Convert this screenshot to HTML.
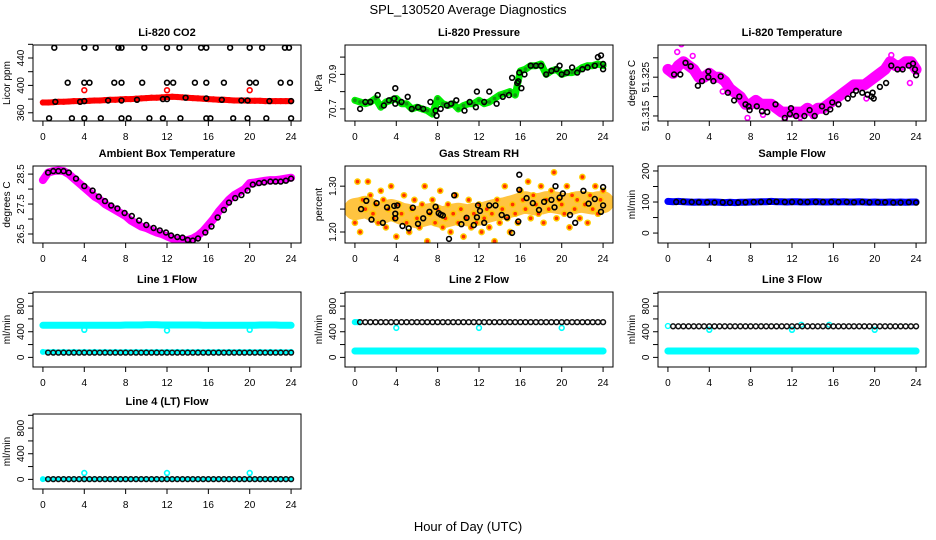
<!DOCTYPE html>
<html><head><meta charset="utf-8"><style>
html,body{margin:0;padding:0;background:#fff;}
svg{display:block;font-family:"Liberation Sans",Arial,sans-serif;}
</style></head><body>
<svg id="chart" width="936" height="540" viewBox="0 0 936 540" xmlns="http://www.w3.org/2000/svg">
<rect x="0" y="0" width="936" height="540" fill="#fff"/>
<text x="468" y="14" text-anchor="middle" font-size="13">SPL_130520  Average Diagnostics</text>
<text x="468" y="531" text-anchor="middle" font-size="13">Hour of Day (UTC)</text>
</svg>
<script>
// ---------- data ----------
const hourTicks = [0,4,8,12,16,20,24];

const co2Red = [375,375,375.5,376,376,376.5,377,377,377,377.5,378,378,378.5,379,379,379.5,380,380,380.5,381,381.5,382,382,382.5,383,383.5,383,382.5,382,381.5,381,380.5,380,379.5,379,379,378.5,378,378,378,377.5,377.5,377.5,377,377,377,377,377,377];
const co2RedOutT = [4,12,20];
const co2RedOutV = [393,393,393];
const co2BlackT = [1.1,4,5.1,7.3,7.6,9.8,12,13.2,15.3,15.8,18.1,20,21.2,23.4,23.8, 2.4,4,4.5,6.9,7.6,9.6,12,12.6,14.7,15.8,17.5,20,20.6,23,23.9, 0.6,2.8,4,5.6,7.6,8.3,10.3,11.6,13.3,15.8,16.2,18.4,19.8,21.6,24, 1.2,3.6,4,6.3,7.6,9.1,11.6,12,13.8,15.8,17.3,19.2,19.8,21.9,24];
const co2BlackV = [455,455,455,455,455,455,455,455,455,455,455,455,455,455,455, 404,404,404,404,404,404,404,404,404,404,404,404,404,404,404, 352,352,352,352,352,352,352,352,352,352,352,352,352,352,352, 376,376,377,378,378,379,380,380,382,381,379,378,378,377,377];
const co2Ticks = [360,380,400,420,440,460];
const co2Labels = [360,400,440];

const presGreen = [70.75,70.74,70.73,70.74,70.76,70.71,70.74,70.75,70.76,70.73,70.73,70.70,70.71,70.70,70.69,70.67,70.76,70.73,70.72,70.73,70.70,70.72,70.73,70.73,70.75,70.73,70.74,70.76,70.78,70.79,70.80,70.78,70.92,70.93,70.95,70.95,70.96,70.90,70.92,70.93,70.90,70.91,70.91,70.92,70.94,70.95,70.95,70.96,70.95];
const presBlackT = [0.5,1,1.5,2.2,2.8,3.3,3.8,3.9,3.9,4.5,5.1,5.5,6.1,6.6,7.3,7.8,7.9,8.3,8.9,9.3,9.8,10.6,11.1,11.7,11.8,12.5,13,13.7,14.3,14.9,15.2,15.7,15.8,15.9,16.1,16.4,17,17.5,18,18.5,19,19.5,19.8,20,20.5,21,21.5,22,22.5,23.2,23.5,23.8,24,24];
const presBlackV = [70.70,70.74,70.74,70.78,70.72,70.75,70.76,70.73,70.82,70.74,70.77,70.70,70.71,70.70,70.74,70.69,70.66,70.70,70.72,70.73,70.75,70.69,70.74,70.71,70.80,70.74,70.80,70.73,70.77,70.78,70.88,70.85,70.86,70.91,70.82,70.90,70.95,70.95,70.95,70.90,70.92,70.93,70.95,70.90,70.91,70.94,70.91,70.93,70.94,70.95,71.00,71.01,70.96,70.93];
const presTicks = [70.7,70.8,70.9,71.0];
const presLabels = [70.7,70.9];

const tempMag = [51.327,51.326,51.328,51.329,51.328,51.327,51.325,51.325,51.326,51.325,51.325,51.324,51.322,51.321,51.320,51.318,51.318,51.319,51.318,51.318,51.318,51.317,51.316,51.316,51.316,51.316,51.316,51.317,51.316,51.317,51.317,51.318,51.319,51.320,51.321,51.322,51.323,51.323,51.323,51.324,51.325,51.326,51.327,51.329,51.328,51.328,51.329,51.329,51.327];
const tempMagOutT = [0.9,1.3,1.6,2.4,5.3,7.7,9.2,11.3,12.8,12.8,14.0,19.2,21.6,23.4];
const tempMagOutV = [51.3315,51.3335,51.3290,51.3305,51.3213,51.3145,51.3153,51.3140,51.3147,51.3133,51.3150,51.3195,51.3307,51.3235];
const tempBlackT = [0.6,1.2,1.7,2.2,2.9,3.3,3.9,3.9,4.4,5.1,5.8,6.4,6.9,7.5,7.8,7.9,8.6,9.1,9.6,10.4,11.3,11.8,11.9,12.4,13.2,13.7,14.2,14.9,15.3,15.7,15.9,16.5,17.4,17.9,18.2,18.8,19.3,19.7,19.8,19.9,20.5,21.1,21.6,22.2,22.7,23.3,23.7,23.9,24];
const tempBlackV = [51.3257,51.3257,51.3287,51.3278,51.3228,51.3240,51.3250,51.3265,51.3240,51.3252,51.3210,51.3190,51.3200,51.3180,51.3175,51.3165,51.3175,51.3162,51.3160,51.3180,51.3145,51.3155,51.3170,51.3150,51.3150,51.3165,51.3150,51.3175,51.3160,51.3167,51.3185,51.3180,51.3195,51.3205,51.3215,51.3210,51.3205,51.3200,51.3210,51.3195,51.3225,51.3235,51.3280,51.3270,51.3270,51.3280,51.3285,51.3270,51.3255];
const tempTicks = [51.315,51.320,51.325,51.330];
const tempLabels = [51.315,51.325];

const ambMag = [28.3,28.55,28.6,28.62,28.6,28.5,28.35,28.2,28.05,27.9,27.75,27.65,27.5,27.4,27.3,27.2,27.1,26.95,26.85,26.75,26.7,26.62,26.55,26.5,26.42,26.35,26.3,26.3,26.3,26.35,26.45,26.6,26.8,27.0,27.25,27.45,27.65,27.8,27.9,28.0,28.2,28.22,28.25,28.28,28.3,28.3,28.32,28.35,28.38];
const ambBlackT = [0.5,1,1.5,2,2.5,3.2,4,4.8,5.4,6,6.6,7.2,7.9,8.6,9.3,10,10.7,11.3,11.9,12.4,13,13.5,14,14.5,15,15.7,16.3,16.9,17.5,18,18.6,19.2,19.8,20.3,20.9,21.4,22,22.5,23,23.5,24];
const ambBlackV = [28.55,28.6,28.6,28.6,28.55,28.35,28.1,27.95,27.75,27.6,27.45,27.35,27.2,27.1,26.95,26.8,26.7,26.62,26.55,26.45,26.4,26.38,26.3,26.28,26.35,26.55,26.75,27.05,27.3,27.55,27.7,27.8,27.95,28.15,28.2,28.22,28.25,28.25,28.25,28.28,28.35];
const ambTicks = [26.5,27.0,27.5,28.0,28.5];
const ambLabels = [26.5,27.5,28.5];

const rhOrange = [1.22,1.31,1.20,1.27,1.25,1.31,1.28,1.24,1.26,1.22,1.29,1.27,1.21,1.25,1.30,1.23,1.19,1.26,1.24,1.28,1.22,1.20,1.25,1.27,1.23,1.21,1.26,1.30,1.18,1.24,1.27,1.22,1.25,1.29,1.21,1.23,1.26,1.20,1.24,1.28,1.22,1.25,1.19,1.23,1.27,1.21,1.24,1.22,1.26,1.20,1.23,1.25,1.21,1.24,1.18,1.27,1.22,1.25,1.30,1.23,1.20,1.26,1.24,1.22,1.29,1.27,1.25,1.31,1.23,1.28,1.26,1.24,1.30,1.22,1.27,1.25,1.29,1.33,1.23,1.27,1.26,1.24,1.30,1.21,1.28,1.25,1.27,1.23,1.32,1.26,1.22,1.28,1.25,1.30,1.24,1.27,1.29];
const rhCenter = [1.250,1.252,1.255,1.250,1.245,1.240,1.245,1.248,1.245,1.240,1.238,1.235,1.232,1.235,1.238,1.240,1.235,1.232,1.235,1.238,1.240,1.238,1.236,1.240,1.238,1.242,1.245,1.248,1.250,1.252,1.255,1.258,1.262,1.265,1.262,1.260,1.262,1.265,1.266,1.264,1.262,1.260,1.262,1.265,1.266,1.264,1.262,1.265,1.265];
const rhBlackT = [0.6,1.1,1.6,2.1,2.7,3.1,3.8,3.9,3.9,4.1,4.6,5.2,5.6,6.1,6.6,7.2,7.8,8.1,8.3,8.5,9.1,9.6,10.3,10.8,11.5,11.8,11.9,12.1,12.5,13.0,13.6,14.2,14.7,15.2,15.8,15.9,15.9,16.6,17.2,17.8,18.3,19.0,19.3,19.4,19.8,20.1,20.8,21.3,22.1,22.6,23.2,23.8,24,24];
const rhBlackV = [1.250,1.268,1.227,1.263,1.220,1.254,1.257,1.240,1.230,1.258,1.213,1.208,1.253,1.218,1.230,1.244,1.255,1.241,1.238,1.236,1.185,1.280,1.217,1.231,1.215,1.232,1.258,1.246,1.220,1.258,1.258,1.237,1.232,1.198,1.223,1.325,1.292,1.274,1.263,1.248,1.266,1.270,1.254,1.300,1.275,1.284,1.237,1.220,1.290,1.262,1.272,1.244,1.258,1.298];
const rhTicks = [1.20,1.25,1.30];
const rhLabels = [1.20,1.30];

const sampleBlue = [102,101,102,101,100,99,100,99,100,100,99,98,99,98,99,99,100,100,101,101,102,101,101,100,101,101,100,100,101,101,100,100,101,100,101,100,100,101,100,99,100,99,99,100,99,100,99,100,100];
const sampleBlackT = [0.8,1.5,2.3,3,3.8,4.5,5.3,6,6.8,7.5,8.3,9,9.8,10.5,11.3,12,12.8,13.5,14.3,15,15.8,16.5,17.3,18,18.8,19.5,20.3,21,21.8,22.5,23.3,24];
const sampleBlackV = [100,101,100,99,99,98,99,98,98,99,100,100,101,101,100,100,100,100,100,100,100,100,100,99,100,99,99,99,98,98,99,98];
const sampleTicks = [0,50,100,150,200];
const sampleLabels = [0,100,200];

const flowTicks = [0,200,400,600,800,1000];
const flowLabels = [0,400,800];
const line1Cyan = [500,500,500,500,500,500,500,500,500,500,500,500,500,500,500,500,505,505,505,505,510,510,510,505,505,505,505,505,505,505,505,500,500,500,500,500,500,500,500,500,500,500,505,505,505,505,500,500,500];
const line1CyanLow = [85,85,85,85,85,85,85,85,85,85,85,85,85,85,85,85,85,85,85,85,85,85,85,85,85];
const line1Black = [75,75,75,75,75,75,75,75,75,75,75,75,75,75,75,75,75,75,75,75,75,75,75,75,75,75,75,75,75,75,75,75,75,75,75,75,75,75,75,75,75,75,75,75,75,75,75,75];
const line1DipT = [4,12,20];
const line1DipV = [430,420,430];
const line2CyanLow = [100,100,100,100,100,100,100,100,100,100,100,100,100,100,100,100,100,100,100,100,100,100,100,100,100];
const line2CyanHiT = [0,0.3];
const line2CyanHiV = [550,550];
const line2Black = [550,550,550,550,550,550,550,550,550,550,550,550,550,550,550,550,550,550,550,550,550,550,550,550,550,550,550,550,550,550,550,550,550,550,550,550,550,550,550,550,550,550,550,550,550,550,550,550];
const line2DipT = [4,12,20];
const line2DipV = [460,460,460];
const line3CyanLow = [100,100,100,100,100,100,100,100,100,100,100,100,100,100,100,100,100,100,100,100,100,100,100,100,100];
const line3CyanHiT = [0,12.9,15.6];
const line3CyanHiV = [490,510,510];
const line3Black = [485,485,485,485,485,485,485,485,485,485,485,485,485,485,485,485,485,485,485,485,485,485,485,485,485,485,485,485,485,485,485,485,485,485,485,485,485,485,485,485,485,485,485,485,485,485,485,485];
const line3DipT = [4,12,20];
const line3DipV = [430,430,430];
const line4Cyan = [5,5,5,5,5,5,5,5,5,5,5,5,5,5,5,5,5,5,5,5,5,5,5,5,5];
const line4Black = [5,5,5,5,5,5,5,5,5,5,5,5,5,5,5,5,5,5,5,5,5,5,5,5,5,5,5,5,5,5,5,5,5,5,5,5,5,5,5,5,5,5,5,5,5,5,5,5];
const line4SpikeT = [4,12,20];
const line4SpikeV = [100,100,100];

// ---------- drawing ----------
const NS = "http://www.w3.org/2000/svg";
const svg = document.getElementById("chart");
function mk(tag, attrs, parent) {
  const e = document.createElementNS(NS, tag);
  for (const k in attrs) e.setAttribute(k, attrs[k]);
  (parent || svg).appendChild(e);
  return e;
}
function evenHours(n, start, end) {
  const out = [];
  for (let i = 0; i < n; i++) out.push(start + (end - start) * i / (n - 1));
  return out;
}
function panel(p) {
  const g = mk("g", {});
  
  
  const xs = v => p.x0 + (v - (-0.96)) / 25.92 * (p.x1 - p.x0);
  const ys = v => p.y1 - (v - p.ylim[0]) / (p.ylim[1] - p.ylim[0]) * (p.y1 - p.y0);
  const clip = mk("clipPath", {id: "clip-" + p.name}, g);
  mk("rect", {x: p.x0, y: p.y0, width: p.x1 - p.x0, height: p.y1 - p.y0}, clip);
  const data = mk("g", {"clip-path": "url(#clip-" + p.name + ")"}, g);
  
  
  p.layers.forEach(L => {
    const lg = mk("g", {}, data);
    
    
    const t = L.t || evenHours(L.v.length, L.start || 0, L.end || 24);
    if (L.band) {
      const pts = t.map((h, i) => xs(h).toFixed(1) + "," + ys(L.v[i]).toFixed(1)).join(" ");
      const pl = mk("polyline", {points: pts, fill: "none", stroke: L.bandColor || L.color, "stroke-width": L.band, "stroke-linejoin": "round", "stroke-linecap": "round", opacity: L.bandOpacity || 1}, lg);
      
      
    }
    if (L.pts !== false) {
      t.forEach((h, i) => {
        const c = mk("circle", {cx: xs(h).toFixed(1), cy: ys(L.v[i]).toFixed(1), r: L.r || 2.4, fill: L.fill || "none", stroke: L.color, "stroke-width": L.sw || 1.4}, lg);
        
        
      });
    }
  });
  const box = mk("rect", {x: p.x0, y: p.y0, width: p.x1 - p.x0, height: p.y1 - p.y0, fill: "none", stroke: "#000", "stroke-width": 1}, g);
  
  
  const title = mk("text", {x: (p.x0 + p.x1) / 2, y: p.y0 - 9, "text-anchor": "middle", "font-size": 11, "font-weight": "bold"}, g);
  title.textContent = p.title;
  
  
  hourTicks.forEach(h => {
    const x = xs(h);
    const tk = mk("line", {x1: x, x2: x, y1: p.y1, y2: p.y1 + 5, stroke: "#000"}, g);
    
    
    const tl = mk("text", {x: x, y: p.y1 + 19, "text-anchor": "middle", "font-size": 10}, g);
    tl.textContent = h;
    
    
  });
  p.yticks.forEach(v => {
    const y = ys(v);
    const tk = mk("line", {x1: p.x0 - 5, x2: p.x0, y1: y, y2: y, stroke: "#000"}, g);
    
    
  });
  p.ylabels.forEach(v => {
    const y = ys(v);
    const tl = mk("text", {x: 0, y: 0, "text-anchor": "middle", "font-size": 10, transform: "translate(" + (p.x0 - 9) + "," + y.toFixed(1) + ") rotate(-90)"}, g);
    tl.textContent = p.fmt ? p.fmt(v) : v;
    
    
  });
  const yt = mk("text", {x: 0, y: 0, "text-anchor": "middle", "font-size": 10, transform: "translate(" + (p.x0 - 23) + "," + ((p.y0 + p.y1) / 2) + ") rotate(-90)"}, g);
  yt.textContent = p.ytitle;
  
  
}

const C1 = [33, 301], C2 = [345, 613], C3 = [658, 926];
const R1 = [45, 121], R2 = [166, 243], R3 = [292, 367], R4 = [414, 489];
const flowY = [-150, 1020];
const blk = "#000", cy = "#00ffff";

panel({name: "co2-panel", title: "Li-820 CO2", ytitle: "Licor ppm", x0: C1[0], x1: C1[1], y0: R1[0], y1: R1[1], ylim: [348, 459], yticks: co2Ticks, ylabels: co2Labels,
  layers: [
    {name: "co2-red-series", v: co2Red, color: "#ff0000", band: 6, r: 2.4},
    {name: "co2-red-outliers", t: co2RedOutT, v: co2RedOutV, color: "#ff0000", sw: 1.6},
    {name: "co2-black-series", t: co2BlackT, v: co2BlackV, color: blk, sw: 1.6}
  ]});
panel({name: "pressure-panel", title: "Li-820 Pressure", ytitle: "kPa", x0: C2[0], x1: C2[1], y0: R1[0], y1: R1[1], ylim: [70.63, 71.07], yticks: presTicks, ylabels: presLabels, fmt: v => v.toFixed(1),
  layers: [
    {name: "pressure-green-series", v: presGreen, color: "#00ee00", band: 7, r: 2.6, fill: "#119911"},
    {name: "pressure-black-series", t: presBlackT, v: presBlackV, color: blk, sw: 1.6}
  ]});
panel({name: "temperature-panel", title: "Li-820 Temperature", ytitle: "degrees C", x0: C3[0], x1: C3[1], y0: R1[0], y1: R1[1], ylim: [51.3137, 51.3333], yticks: tempTicks, ylabels: tempLabels, fmt: v => v.toFixed(3),
  layers: [
    {name: "temperature-magenta-series", v: tempMag, color: "#ff00ff", band: 11, r: 3},
    {name: "temperature-magenta-outliers", t: tempMagOutT, v: tempMagOutV, color: "#ff00ff", sw: 1.6},
    {name: "temperature-black-series", t: tempBlackT, v: tempBlackV, color: blk, sw: 1.6}
  ]});
panel({name: "ambient-panel", title: "Ambient Box Temperature", ytitle: "degrees C", x0: C1[0], x1: C1[1], y0: R2[0], y1: R2[1], ylim: [26.2, 28.77], yticks: ambTicks, ylabels: ambLabels, fmt: v => v.toFixed(1),
  layers: [
    {name: "ambient-magenta-series", v: ambMag, color: "#ff00ff", band: 8, r: 3},
    {name: "ambient-black-series", t: ambBlackT, v: ambBlackV, color: blk, sw: 1.6}
  ]});
panel({name: "rh-panel", title: "Gas Stream RH", ytitle: "percent", x0: C2[0], x1: C2[1], y0: R2[0], y1: R2[1], ylim: [1.176, 1.344], yticks: rhTicks, ylabels: rhLabels, fmt: v => v.toFixed(2),
  layers: [
    {name: "rh-cloud-center", v: rhCenter, color: "#ffb000", band: 22, bandColor: "#ffb000", bandOpacity: 0.75, pts: false},
    {name: "rh-orange-series", v: rhOrange, color: "#ffcc00", r: 2.6, fill: "#ff3300", sw: 1.5},
    {name: "rh-black-series", t: rhBlackT, v: rhBlackV, color: blk, sw: 1.6}
  ]});
panel({name: "sample-flow-panel", title: "Sample Flow", ytitle: "ml/min", x0: C3[0], x1: C3[1], y0: R2[0], y1: R2[1], ylim: [-32, 216], yticks: sampleTicks, ylabels: sampleLabels,
  layers: [
    {name: "sample-blue-series", v: sampleBlue, color: "#0000ff", band: 7, r: 2.5},
    {name: "sample-black-series", t: sampleBlackT, v: sampleBlackV, color: blk, sw: 1.6}
  ]});
panel({name: "line1-flow-panel", title: "Line 1 Flow", ytitle: "ml/min", x0: C1[0], x1: C1[1], y0: R3[0], y1: R3[1], ylim: flowY, yticks: flowTicks, ylabels: flowLabels,
  layers: [
    {name: "line1-cyan-high", v: line1Cyan, color: cy, band: 7, r: 2.5},
    {name: "line1-cyan-dips", t: line1DipT, v: line1DipV, color: cy, sw: 1.6},
    {name: "line1-cyan-low", v: line1CyanLow, color: cy, band: 5, r: 2.3},
    {name: "line1-black", v: line1Black, start: 0.5, end: 24, color: "#111", r: 2.4, sw: 1.5}
  ]});
panel({name: "line2-flow-panel", title: "Line 2 Flow", ytitle: "ml/min", x0: C2[0], x1: C2[1], y0: R3[0], y1: R3[1], ylim: flowY, yticks: flowTicks, ylabels: flowLabels,
  layers: [
    {name: "line2-cyan-high", t: line2CyanHiT, v: line2CyanHiV, color: cy, band: 6},
    {name: "line2-cyan-dips", t: line2DipT, v: line2DipV, color: cy, sw: 1.6},
    {name: "line2-cyan-low", v: line2CyanLow, color: cy, band: 7, r: 2.5},
    {name: "line2-black", v: line2Black, start: 0.5, end: 24, color: "#111", r: 2.4, sw: 1.5}
  ]});
panel({name: "line3-flow-panel", title: "Line 3 Flow", ytitle: "ml/min", x0: C3[0], x1: C3[1], y0: R3[0], y1: R3[1], ylim: flowY, yticks: flowTicks, ylabels: flowLabels,
  layers: [
    {name: "line3-cyan-high", t: line3CyanHiT, v: line3CyanHiV, color: cy},
    {name: "line3-cyan-dips", t: line3DipT, v: line3DipV, color: cy, sw: 1.6},
    {name: "line3-cyan-low", v: line3CyanLow, color: cy, band: 7, r: 2.5},
    {name: "line3-black", v: line3Black, start: 0.5, end: 24, color: "#111", r: 2.4, sw: 1.5}
  ]});
panel({name: "line4-flow-panel", title: "Line 4 (LT) Flow", ytitle: "ml/min", x0: C1[0], x1: C1[1], y0: R4[0], y1: R4[1], ylim: flowY, yticks: flowTicks, ylabels: flowLabels,
  layers: [
    {name: "line4-cyan", v: line4Cyan, color: cy, band: 4, r: 2.3},
    {name: "line4-cyan-spikes", t: line4SpikeT, v: line4SpikeV, color: cy, sw: 1.6},
    {name: "line4-black", v: line4Black, start: 0.5, end: 24, color: "#111", r: 2.4, sw: 1.5}
  ]});
</script>
</body></html>
